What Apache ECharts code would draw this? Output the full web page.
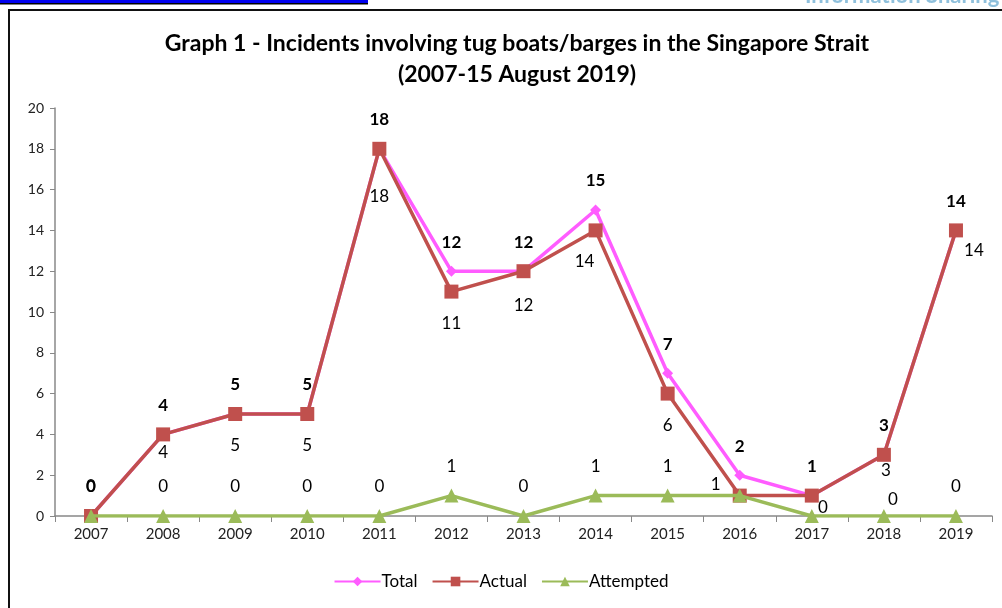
<!DOCTYPE html>
<html>
<head>
<meta charset="utf-8">
<script src="https://cdn.jsdelivr.net/npm/echarts@6/dist/echarts.min.js"></script>
<style>
html,body{margin:0;padding:0;background:#fff;}
#c{width:1002px;height:608px;}
</style>
</head>
<body>
<div id="c"></div>
<script>
const years = ['2007','2008','2009','2010','2011','2012','2013','2014','2015','2016','2017','2018','2019'];
const total = [0,4,5,5,18,12,12,15,7,2,1,3,14];
const actual = [0,4,5,5,18,11,12,14,6,1,1,3,14];
const attempted = [0,0,0,0,0,1,0,1,1,1,0,0,0];
const yTicks = [0,2,4,6,8,10,12,14,16,18,20];

const FONT = 'Lato, "Open Sans", sans-serif';

// label offsets (dx, dy) from point centre; null hides the label
const totalOff = years.map(() => [0, -29]);
const actualOff = [null,[0,18],[0,32],[0,32],[0,48],[0,32],[0,34],[-11,31],[0,32],[-24,-11],null,[2,16],[18,20]];
const attOff = [[0,-29],[0,-29],[0,-29],[0,-29],[0,-29],[0,-29],[0,-29],[0,-29],[0,-29],null,[11,-8],[9,-16],[0,-29]];

function mk(vals, offs, bold) {
  return vals.map((v, i) => {
    const o = offs[i];
    if (!o) return { value: v, label: { show: false } };
    return { value: v, label: { show: true, position: 'inside', offset: o,
      fontWeight: bold ? 'bold' : 'normal', fontSize: 17, color: '#000', fontFamily: FONT } };
  });
}

const chart = echarts.init(document.getElementById('c'), null, { renderer: 'canvas' });
chart.setOption({
  animation: false,
  backgroundColor: '#fff',
  title: {
    text: 'Graph 1 - Incidents involving tug boats/barges in the Singapore Strait\n(2007-15 August 2019)',
    left: 512, top: 23, textAlign: 'center',
    textStyle: { fontFamily: FONT, fontWeight: 'bold', fontSize: 23, lineHeight: 31, color: '#000' }
  },
  graphic: [
    { type: 'rect', shape: { x: 0, y: 0, width: 368, height: 3 }, style: { fill: '#0000ee' } },
    { type: 'rect', shape: { x: 0, y: 3, width: 368, height: 1.5 }, style: { fill: '#000' } },
    { type: 'rect', shape: { x: 9, y: 10, width: 1010, height: 620 }, style: { fill: 'none', stroke: '#111', lineWidth: 2 } },
    { type: 'text', left: 805, top: -15, style: { text: 'Information Sharing Centre', fill: '#8fc0dc', font: 'bold 22px ' + FONT } }
  ],
  legend: {
    bottom: 13, left: 'center', itemGap: 14, itemWidth: 46, itemHeight: 12,
    textStyle: { fontFamily: FONT, fontSize: 17, color: '#000', padding: [0,0,0,-4] },
    data: ['Total','Actual','Attempted']
  },
  grid: { left: 55, right: 10, top: 108, bottom: 92 },
  xAxis: {
    type: 'category', data: years, boundaryGap: true,
    axisLine: { lineStyle: { color: '#888', width: 1.5 } },
    axisTick: { show: true, length: 6, lineStyle: { color: '#888' } },
    axisLabel: { color: '#222', fontFamily: FONT, fontSize: 15, margin: 11 }
  },
  yAxis: {
    type: 'value', min: yTicks[0], max: yTicks[yTicks.length-1], interval: 2,
    splitLine: { show: false },
    axisLine: { show: true, lineStyle: { color: '#888', width: 1.5 } },
    axisTick: { show: true, length: 5, lineStyle: { color: '#888' } },
    axisLabel: { color: '#222', fontFamily: FONT, fontSize: 14, margin: 11 }
  },
  series: [
    { name: 'Total', type: 'line', data: mk(total, totalOff, true), z: 2,
      symbol: 'diamond', symbolSize: 11, color: '#ff5cff',
      lineStyle: { width: 3.5, color: '#ff5cff' }, itemStyle: { color: '#ff5cff' } },
    { name: 'Actual', type: 'line', data: mk(actual, actualOff, false), z: 3,
      symbol: 'rect', symbolSize: 14, color: '#c0504d',
      lineStyle: { width: 3.5, color: '#c0504d' }, itemStyle: { color: '#c0504d' } },
    { name: 'Attempted', type: 'line', data: mk(attempted, attOff, false), z: 4,
      symbol: 'triangle', symbolSize: 14, color: '#9bbb59',
      lineStyle: { width: 3.5, color: '#9bbb59' }, itemStyle: { color: '#9bbb59' } }
  ]
});
</script>
</body>
</html>
